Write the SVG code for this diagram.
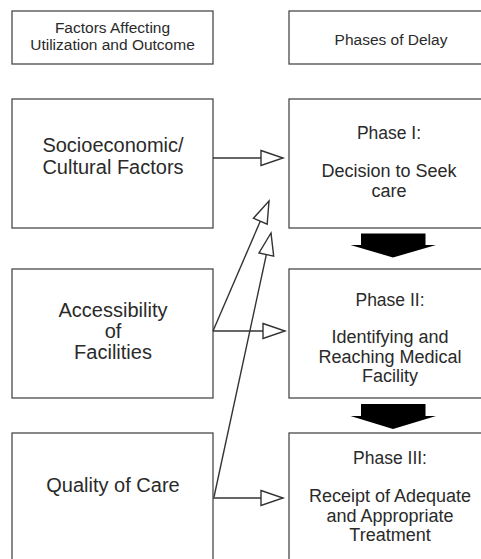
<svg xmlns="http://www.w3.org/2000/svg" width="481" height="559" viewBox="0 0 481 559">
<style>
.box{fill:#fff;stroke:#4a4a4a;stroke-width:1.3}
.t{font-family:"Liberation Sans",Arial,sans-serif;fill:#2a2a2a;text-anchor:middle}
.s{font-size:15.5px}
.l{font-size:20px}
.h{font-size:17.5px}
.r{font-size:18px}
.c{stroke:#333;stroke-width:1.4;fill:none}
.big{fill:#000}
</style>
<defs>
<marker id="open" markerUnits="userSpaceOnUse" markerWidth="26" markerHeight="18" refX="22" refY="7.5" orient="auto" overflow="visible">
<path d="M0,0 L22,7.5 L0,15 Z" fill="#fff" stroke="#333" stroke-width="1.4"/>
</marker>
</defs>
<rect width="481" height="559" fill="#fff"/>
<g id="hdr-factors">
<rect class="box" x="12" y="11" width="201" height="53"/>
<text class="t s" x="112.5" y="33">Factors Affecting</text>
<text class="t s" x="112.5" y="50">Utilization and Outcome</text>
</g>
<g id="hdr-phases">
<rect class="box" x="289" y="11" width="205" height="53"/>
<text class="t s" x="391" y="45">Phases of Delay</text>
</g>
<g id="socio">
<rect class="box" x="12" y="99" width="201" height="129"/>
<text class="t l" x="113" y="152">Socioeconomic/</text>
<text class="t l" x="113" y="174">Cultural Factors</text>
</g>
<g id="phase1">
<rect class="box" x="289" y="99" width="205" height="129"/>
<text class="t h" x="389" y="139">Phase I:</text>
<text class="t r" x="389" y="177">Decision to Seek</text>
<text class="t r" x="389" y="196.5">care</text>
</g>
<g id="access">
<rect class="box" x="12" y="269" width="201" height="129"/>
<text class="t l" x="113" y="317">Accessibility</text>
<text class="t l" x="113" y="338">of</text>
<text class="t l" x="113" y="359">Facilities</text>
</g>
<g id="phase2">
<rect class="box" x="289" y="269" width="205" height="129"/>
<text class="t h" x="390" y="306">Phase II:</text>
<text class="t r" x="390" y="343">Identifying and</text>
<text class="t r" x="390" y="362.5">Reaching Medical</text>
<text class="t r" x="390" y="382">Facility</text>
</g>
<g id="quality">
<rect class="box" x="12" y="433" width="201" height="140"/>
<text class="t l" x="113" y="492">Quality of Care</text>
</g>
<g id="phase3">
<rect class="box" x="289" y="433" width="205" height="140"/>
<text class="t h" x="390" y="464">Phase III:</text>
<text class="t r" x="390" y="502">Receipt of Adequate</text>
<text class="t r" x="390" y="521.5">and Appropriate</text>
<text class="t r" x="390" y="541">Treatment</text>
</g>
<g id="connectors">
<line class="c" x1="213" y1="158" x2="283" y2="158" marker-end="url(#open)"/>
<line class="c" x1="213" y1="331" x2="285" y2="331" marker-end="url(#open)"/>
<line class="c" x1="213" y1="498" x2="283" y2="498" marker-end="url(#open)"/>
<line class="c" x1="213" y1="331" x2="269" y2="201" marker-end="url(#open)"/>
<line class="c" x1="214" y1="497" x2="271" y2="233" marker-end="url(#open)"/>
<polygon class="big" points="361,233.5 425.5,233.5 425.5,245 436,245 393,257.5 350.5,245 361,245"/>
<polygon class="big" points="361,404 425.5,404 425.5,416 436,416 393,429 350.5,416 361,416"/>
</g>
</svg>
